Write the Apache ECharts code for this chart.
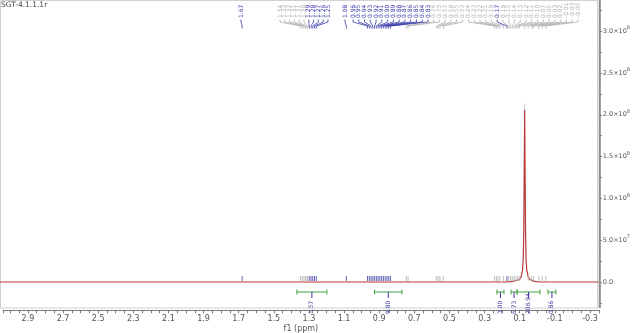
<!DOCTYPE html>
<html><head><meta charset="utf-8">
<script src="https://cdn.jsdelivr.net/npm/echarts@6/dist/echarts.min.js"></script>
<style>html,body{margin:0;padding:0;background:#fff}#c{width:640px;height:333px}</style>
</head><body><div id="c"></div>
<script>
// ---------- data ----------
const chartTitle = 'SGT-4.1.1.1r';
const xAxisName = 'f1 (ppm)';
// spectrum trace (ppm, intensity)
const specPpm = [3.05, 0.19, 0.15, 0.12, 0.10, 0.09, 0.086, 0.082, 0.078, 0.075, 0.0725, 0.070, 0.0675, 0.065, 0.062, 0.058, 0.054, 0.050, 0.04, 0.02, -0.01, -0.35];
const specInt = [0, 0, 5e5, 1.5e6, 3e6, 6e6, 1.1e7, 1.4e7, 2.8e7, 6e7, 1.3e8, 2.06e8, 1.3e8, 6e7, 2.8e7, 1.4e7, 1.1e7, 6e6, 3e6, 1e6, 0, 0];
// picked peaks, grouped as labelled at the top
const peaksA = [1.67];
const peaksB = [1.34, 1.33, 1.32, 1.31, 1.31, 1.30, 1.29, 1.28, 1.27, 1.26, 1.25];
const peaksC = [1.08];
const peaksD = [0.96, 0.95, 0.94, 0.93, 0.92, 0.91, 0.90, 0.89, 0.88, 0.87, 0.86, 0.85, 0.84, 0.83,
                0.74, 0.73, 0.57, 0.56, 0.55, 0.53,
                0.24, 0.23, 0.22, 0.21, 0.19, 0.17, 0.16, 0.15, 0.14, 0.13, 0.12, 0.11, 0.10, 0.07, 0.05, 0.03, 0.02, -0.01, -0.03, -0.05];
const blueA = [1];
const blueB = [0,0,0,0,0,0,1,1,1,1,1];
const blueC = [1];
const blueD = [1,1,1,1,1,1,1,1,1,1,1,1,1,1, 0,0,0,0,0,0, 0,0,0,0,0,1,0,0,0,0,0,0,0,0,0,0,0,0,0,0];
const peakTopPpm = 0.07, peakTopInt = 2.06e8;
// integrals
const integFrom = [1.36, 0.92, 0.227, 0.147, 0.113, -0.062];
const integTo   = [1.19, 0.765, 0.187, 0.113, -0.017, -0.107];
const integVal  = ['1.57', '9.80', '3.00', '6.73', '206.94', '0.86'];
const yTickStep = 2.5e7;
const xMin = -0.35, xMax = 3.0416, yMin = -2.5e7, yMax = 3.373e8;

// ---------- layout (annotation placement, px) ----------
const groupStart = [241, 280, 345, 353];
const groupGap   = [0, 4.8, 0, 5.77];
const BLUE = '#3a3aa8', GREY = '#b0b0b0', GREEN = '#45a045', RED = '#b83838';
const FONT = 'DejaVu Sans';
const GL = 0, GR = 41.2;

const groups = [[peaksA, blueA], [peaksB, blueB], [peaksC, blueC], [peaksD, blueD]];
const peakList = [];
groups.forEach((g, gi) => {
  g[0].forEach((p, i) => {
    peakList.push({ppm: p, blue: g[1][i], lx: groupStart[gi] + i * groupGap[gi]});
  });
});

const chart = echarts.init(document.getElementById('c'), null, {renderer: 'canvas'});

function xLabel(v) {
  const n = Math.round(v * 100);
  if (Math.abs(v * 100 - n) > 1e-3) return '';
  if (Math.abs(n) % 20 !== 10) return '';
  return (n / 100).toFixed(1);
}
function yLabel(v) {
  const n = Math.round(v / yTickStep);
  if (Math.abs(v / yTickStep - n) > 1e-3) return '';
  if (n < 0 || n % 2 !== 0) return '';
  if (n === 0) return '{m|0.0}';
  const e = Math.floor(Math.log10(v) + 1e-9);
  const m = (v / Math.pow(10, e)).toFixed(1);
  return '{m|' + m + '×10}{e|' + e + '}';
}

const option = {
  animation: false,
  grid: [
    {left: GL, right: GR, top: 0, bottom: 30.1, containLabel: false},
    {left: GL, right: GR, top: 310, bottom: 22, containLabel: false}
  ],
  xAxis: [
    {gridIndex: 0, type: 'value', inverse: true, min: xMin, max: xMax, show: false},
    {
      gridIndex: 1, type: 'value', inverse: true, min: xMin, max: xMax, interval: 0.05,
      axisLine: {show: true, onZero: false, lineStyle: {color: '#777', width: 1}},
      axisTick: {show: true, length: 3, lineStyle: {color: '#777'}},
      axisLabel: {formatter: xLabel, fontSize: 8, color: '#555', fontFamily: FONT, margin: 5, showMinLabel: true, showMaxLabel: true, hideOverlap: false},
      splitLine: {show: false},
      name: xAxisName, nameLocation: 'middle', nameGap: 15,
      nameTextStyle: {fontSize: 8, color: '#555', fontFamily: FONT}
    }
  ],
  yAxis: [
    {
      gridIndex: 0, type: 'value', position: 'right', min: yMin, max: yMax, interval: yTickStep,
      axisLine: {show: false, onZero: false},
      axisTick: {show: true, length: 3, lineStyle: {color: '#666'}},
      axisLabel: {formatter: yLabel, margin: 4, showMaxLabel: false,
        rich: {m: {fontSize: 6.5, color: '#555', fontFamily: FONT},
               e: {fontSize: 5, color: '#555', fontFamily: FONT, padding: [0, 0, 6, 0]}}},
      splitLine: {show: false}
    },
    {gridIndex: 1, type: 'value', show: false, min: 0, max: 1}
  ],
  graphic: [
    {type: 'rect', shape: {x: 0.5, y: 0.5, width: 597, height: 307.5}, style: {fill: null, stroke: '#d0d0d0', lineWidth: 1}, z: 0, silent: true},
    {type: 'line', shape: {x1: 599.8, y1: 0, x2: 599.8, y2: 308}, style: {stroke: '#8a8a8a', lineWidth: 2}, z: 10, silent: true},
    {type: 'text', x: 1, y: 1, style: {text: chartTitle, fontSize: 7.5, fill: '#444', fontFamily: FONT}, z: 10}
  ],
  series: [
    {
      type: 'line', name: 'spectrum', xAxisIndex: 0, yAxisIndex: 0, showSymbol: false, symbol: 'none',
      data: specPpm.map((p, i) => [p, specInt[i]]),
      lineStyle: {color: RED, width: 1.2}, z: 3, clip: true
    },
    {
      type: 'scatter', name: 'markers', xAxisIndex: 0, yAxisIndex: 0, symbol: 'rect', symbolSize: [1, 5],
      data: peakList.map(p => ({value: [p.ppm, (p.ppm === peakTopPpm ? peakTopInt : 0) + 4.2e6], itemStyle: {color: p.blue ? BLUE : GREY}})),
      z: 4
    },
    {
      type: 'custom', name: 'peakLabels', xAxisIndex: 0, yAxisIndex: 0, coordinateSystem: 'cartesian2d', clip: false,
      data: peakList.map(p => [p.ppm, 0]),
      renderItem: function (params, api) {
        const p = peakList[params.dataIndex];
        const px = api.coord([p.ppm, 0])[0];
        const col = p.blue ? BLUE : GREY;
        return {type: 'group', children: [
          {type: 'text', x: p.lx, y: 18, rotation: Math.PI / 2,
           style: {text: p.ppm.toFixed(2), fill: col, fontSize: 6, fontFamily: FONT, align: 'left', verticalAlign: 'middle'}},
          {type: 'polyline', shape: {points: [[p.lx, 19.5], [p.lx, 22], [px, 26], [px, 28.5]]},
           style: {stroke: col, fill: null, lineWidth: 0.8}}
        ]};
      },
      z: 5
    },
    {
      type: 'custom', name: 'integrals', xAxisIndex: 0, yAxisIndex: 0, coordinateSystem: 'cartesian2d', clip: false,
      data: integFrom.map((f, i) => [f, integTo[i]]),
      renderItem: function (params, api) {
        const i = params.dataIndex;
        const x1 = api.coord([integFrom[i], 0])[0];
        const x2 = api.coord([integTo[i], 0])[0];
        const y0 = api.coord([0, 0])[1];
        const yb = y0 + 10;
        const xm = (x1 + x2) / 2;
        return {type: 'group', children: [
          {type: 'line', shape: {x1: x1, y1: yb, x2: x2, y2: yb}, style: {stroke: GREEN, lineWidth: 1}},
          {type: 'line', shape: {x1: x1, y1: yb - 2.5, x2: x1, y2: yb + 2.5}, style: {stroke: GREEN, lineWidth: 1}},
          {type: 'line', shape: {x1: x2, y1: yb - 2.5, x2: x2, y2: yb + 2.5}, style: {stroke: GREEN, lineWidth: 1}},
          {type: 'line', shape: {x1: xm, y1: yb, x2: xm, y2: yb + 6}, style: {stroke: BLUE, lineWidth: 1}},
          {type: 'text', x: xm, y: y0 + 32, rotation: Math.PI / 2,
           style: {text: integVal[i], fill: BLUE, fontSize: 6, fontFamily: FONT, align: 'left', verticalAlign: 'middle'}}
        ]};
      },
      z: 6
    }
  ]
};
chart.setOption(option);
</script>
</body></html>
